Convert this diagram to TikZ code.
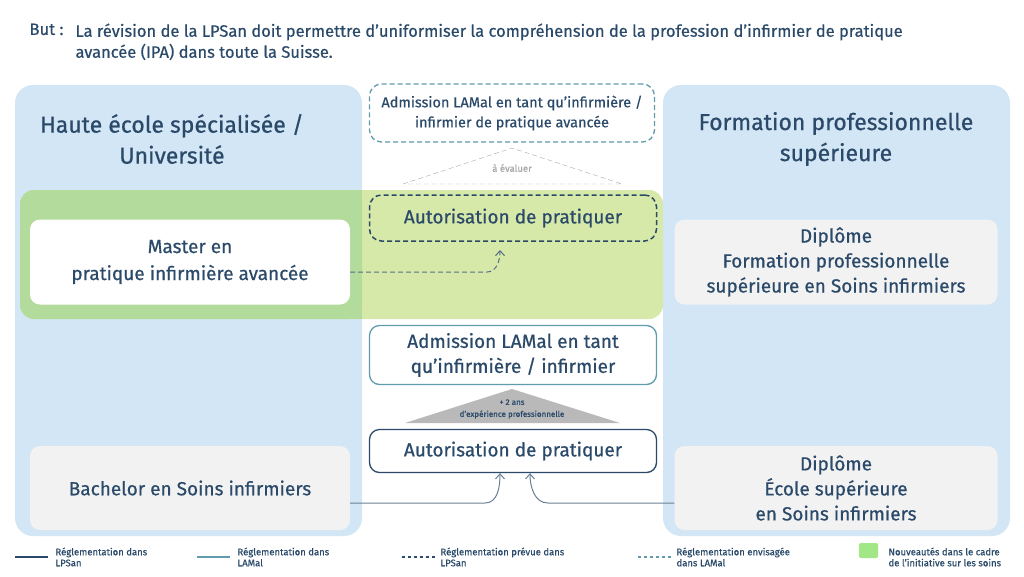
\documentclass[tikz,border=0pt]{standalone}
\usepackage{fontspec}
\setmainfont{Fira Sans}[BoldFont=Fira Sans,BoldFeatures={FakeBold=0.6}]
\usetikzlibrary{arrows.meta}
\definecolor{dk}{HTML}{2B4A6A}
\definecolor{tl}{HTML}{5E9CAE}
\definecolor{pb}{HTML}{D3E6F5}
\definecolor{gl}{HTML}{D6E9A8}
\definecolor{gd}{HTML}{B3DB9C}
\definecolor{gy}{HTML}{F2F2F2}
\definecolor{lgr}{HTML}{A8A8A8}
\tikzset{
 panel/.style={fill=pb,rounded corners=18pt,draw=none},
 wbox/.style={fill=white,rounded corners=10pt,draw=none,text=dk,align=center},
 gbox/.style={fill=gy,rounded corners=10pt,draw=none,text=dk,align=center},
 lbl/.style={text=dk,align=center},
 conn/.style={draw=dk!80,line width=1pt},
 dsh/.style={dash pattern=on 5pt off 3pt},
 tip/.style={-{Straight Barb[length=5pt,width=9pt]}},
 leg/.style={text=dk,align=left,anchor=west,font=\bfseries\fontsize{9.5}{11}\selectfont},
}
\begin{document}
\begin{tikzpicture}[x=1pt,y=-1pt,every node/.append style={font=\bfseries}]
\useasboundingbox (0,0) rectangle (1024,576);
\fill[white] (0,0) rectangle (1024,576);
% header
\node[text=dk,anchor=north west,font=\bfseries\fontsize{16.5}{21}\selectfont] (but) at (26,20) {But :};
\node[text=dk,anchor=north west,align=left,font=\bfseries\fontsize{16.5}{21}\selectfont] (goal) at (72,20) {La révision de la LPSan doit permettre d’uniformiser la compréhension de la profession d’infirmier de pratique\\avancée (IPA) dans toute la Suisse.};
% panels
\path[panel] (15,85) rectangle (362,536);
\path[panel] (663,85) rectangle (1010,536);
% green band
\fill[gl,rounded corners=14pt] (20,190) rectangle (663,319);
\fill[gd,rounded corners=14pt] (20,190) -- (362,190) -- (362,319) -- (20,319) -- cycle;
\fill[gd] (340,190) rectangle (362,319);
% panel titles
\node[lbl,font=\bfseries\fontsize{23}{31}\selectfont] (lt) at (172,139) {Haute école spécialisée /\\Université};
\node[lbl,font=\bfseries\fontsize{23}{31}\selectfont] (rt) at (836,139) {Formation professionnelle\\supérieure};
% boxes
\node[wbox,minimum width=320pt,minimum height=85pt,font=\bfseries\fontsize{19}{27}\selectfont] (master) at (190,262) {Master en\\pratique infirmière avancée};
\node[gbox,minimum width=320pt,minimum height=84pt,font=\bfseries\fontsize{19}{27}\selectfont] (bach) at (190,488) {Bachelor en Soins infirmiers};
\node[gbox,minimum width=323pt,minimum height=85pt,font=\bfseries\fontsize{19}{25}\selectfont] (dip1) at (836,262) {Diplôme\\Formation professionnelle\\supérieure en Soins infirmiers};
\node[gbox,minimum width=323pt,minimum height=84pt,font=\bfseries\fontsize{19}{25}\selectfont] (dip2) at (836,488) {Diplôme\\École supérieure\\en Soins infirmiers};
% center
\node[draw=tl,dsh,line width=1.3pt,rounded corners=12pt,minimum width=285pt,minimum height=58pt,lbl,font=\bfseries\fontsize{14.5}{20}\selectfont] (adm2) at (512,113) {Admission LAMal en tant qu’infirmière /\\infirmier de pratique avancée};
\draw[lgr,dsh] (403,184) -- (512,148) -- (622,184) -- cycle;
\node[text=lgr,font=\bfseries\fontsize{9.5}{10}\selectfont] (eval) at (512,168) {à évaluer};
\node[draw=dk,dsh,line width=1.5pt,rounded corners=12pt,minimum width=287pt,minimum height=46pt,lbl,font=\bfseries\fontsize{19}{22}\selectfont] (aut2) at (513,218) {Autorisation de pratiquer};
\node[draw=tl,line width=1.3pt,fill=white,rounded corners=10pt,minimum width=287pt,minimum height=59pt,lbl,font=\bfseries\fontsize{19}{25}\selectfont] (adm) at (513,355) {Admission LAMal en tant\\qu’infirmière / infirmier};
\fill[lgr!80] (405,423) -- (512,389) -- (620,423) -- cycle;
\node[lbl,font=\bfseries\fontsize{8}{12}\selectfont] (exp) at (512,409) {+ 2 ans\\d’expérience professionnelle};
\node[draw=dk,line width=1.3pt,fill=white,rounded corners=10pt,minimum width=287pt,minimum height=43pt,lbl,font=\bfseries\fontsize{19}{22}\selectfont] (aut) at (513,451) {Autorisation de pratiquer};
% connectors
\coordinate (t1) at (500,250);
\draw[conn,dsh,tip] (master.east|-0,272) -- (487,272) to[out=0,in=-90] (t1);
\draw[conn,draw=dk!70,tip] (bach.east|-0,503) -- (485,503) to[out=0,in=-90] ([xshift=-13pt]aut.south);
\draw[conn,draw=dk!70,tip] (dip2.west|-0,503) -- (548,503) to[out=180,in=-90] ([xshift=17pt]aut.south);
% legend
\coordinate (l1a) at (15,557); \coordinate (l1b) at (48,557);
\draw[dk,line width=1.2pt] (l1a) -- (l1b);
\node[leg] (lg1) at (52,557) {Réglementation dans\\LPSan};
\coordinate (l2a) at (197,557); \coordinate (l2b) at (230,557);
\draw[tl,line width=1.2pt] (l2a) -- (l2b);
\node[leg] (lg2) at (234,557) {Réglementation dans\\LAMal};
\coordinate (l3a) at (402,557); \coordinate (l3b) at (435,557);
\draw[dk,line width=1.5pt,dash pattern=on 3pt off 3pt] (l3a) -- (l3b);
\node[leg] (lg3) at (437,557) {Réglementation prévue dans\\LPSan};
\coordinate (l4a) at (638,557); \coordinate (l4b) at (671,557);
\draw[tl,line width=1.2pt,dash pattern=on 3pt off 3pt] (l4a) -- (l4b);
\node[leg] (lg4) at (673,557) {Réglementation envisagée\\dans LAMal};
\fill[gd!70!green!60!gl,rounded corners=2pt] (859,543) rectangle (878,558);
\node[leg] (lg5) at (885,557) {Nouveautés dans le cadre\\de l’initiative sur les soins};
\end{tikzpicture}
\end{document}
